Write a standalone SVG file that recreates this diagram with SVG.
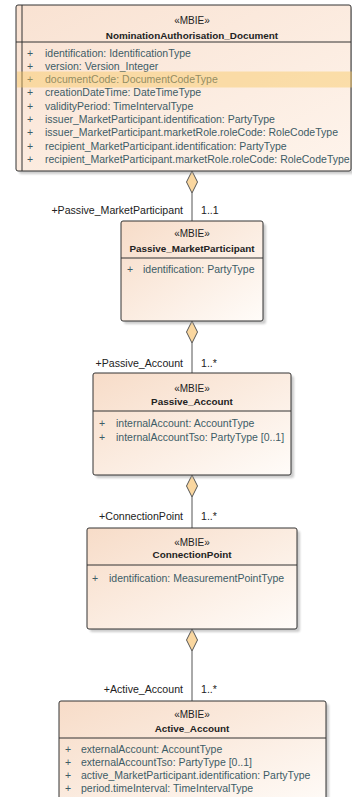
<svg xmlns="http://www.w3.org/2000/svg" width="352" height="797" viewBox="0 0 352 797">
<defs>
<linearGradient id="fill" x1="0" y1="0" x2="1" y2="1">
<stop offset="0" stop-color="#F7DCC8"/>
<stop offset="1" stop-color="#FFFCF9"/>
</linearGradient>
<linearGradient id="fill1" x1="0" y1="0" x2="1" y2="1">
<stop offset="0" stop-color="#F9E2D2"/>
<stop offset="1" stop-color="#FEF4EC"/>
</linearGradient>
<filter id="sh" x="-10%" y="-10%" width="130%" height="130%">
<feGaussianBlur stdDeviation="1"/>
</filter>
</defs>
<style>
text{font-family:"Liberation Sans",Arial,sans-serif;font-size:10.5px;fill:#222}
.st{text-anchor:middle;font-size:10px}
.nm{text-anchor:middle;font-weight:bold;font-size:9.9px}
.at{fill:#3D5C66}
.pl{fill:#3D5C66}
.box{stroke:#333;stroke-width:1}
.shadow{fill:#999;opacity:0.5;filter:url(#sh)}
.sep{stroke:#333;stroke-width:1}
.ln{stroke:#555;stroke-width:1;fill:none}
.dia{fill:#FAD7A0;stroke:#555;stroke-width:1}
.lbl{fill:#222;font-size:10.6px}
</style>

<g id="connectors">
<line class="ln" x1="192" y1="193" x2="192" y2="221"/>
<polygon class="dia" points="192,171 197.5,182 192,193 186.5,182"/>
<text class="lbl" x="183" y="213.5" text-anchor="end">+Passive_MarketParticipant</text>
<text class="lbl" x="201" y="213.5">1..1</text>

<line class="ln" x1="192" y1="343" x2="192" y2="373"/>
<polygon class="dia" points="192,321 197.5,332 192,343 186.5,332"/>
<text class="lbl" x="183" y="366.5" text-anchor="end">+Passive_Account</text>
<text class="lbl" x="201" y="366.5">1..*</text>

<line class="ln" x1="192" y1="497" x2="192" y2="528"/>
<polygon class="dia" points="192,475 197.5,486 192,497 186.5,486"/>
<text class="lbl" x="183" y="519.5" text-anchor="end">+ConnectionPoint</text>
<text class="lbl" x="201" y="519.5">1..*</text>

<line class="ln" x1="192" y1="651" x2="192" y2="701"/>
<polygon class="dia" points="192,629 197.5,640 192,651 186.5,640"/>
<text class="lbl" x="183" y="692.5" text-anchor="end">+Active_Account</text>
<text class="lbl" x="201" y="692.5">1..*</text>
</g>

<g id="NominationAuthorisation_Document">
<rect class="shadow" x="19" y="8" width="335" height="166" rx="2"/>
<rect class="box" x="16" y="5" width="335" height="166" rx="2" fill="url(#fill1)"/>
<line class="sep" x1="22" y1="5" x2="22" y2="171"/>
<line class="sep" x1="16" y1="42" x2="351" y2="42"/>
<text class="st" x="192" y="23.5">«MBIE»</text>
<text class="nm" x="192" y="38.5">NominationAuthorisation_Document</text>
<text class="pl" x="27" y="56.5">+</text><text class="at" x="45" y="56.5">identification: IdentificationType</text>
<text class="pl" x="27" y="69.8">+</text><text class="at" x="45" y="69.8">version: Version_Integer</text>
<text class="pl" x="27" y="83.1">+</text><text class="at" x="45" y="83.1">documentCode: DocumentCodeType</text>
<text class="pl" x="27" y="96.4">+</text><text class="at" x="45" y="96.4">creationDateTime: DateTimeType</text>
<text class="pl" x="27" y="109.7">+</text><text class="at" x="45" y="109.7">validityPeriod: TimeIntervalType</text>
<text class="pl" x="27" y="123">+</text><text class="at" x="45" y="123">issuer_MarketParticipant.identification: PartyType</text>
<text class="pl" x="27" y="136.3">+</text><text class="at" x="45" y="136.3">issuer_MarketParticipant.marketRole.roleCode: RoleCodeType</text>
<text class="pl" x="27" y="149.6">+</text><text class="at" x="45" y="149.6">recipient_MarketParticipant.identification: PartyType</text>
<text class="pl" x="27" y="162.9">+</text><text class="at" x="45" y="162.9">recipient_MarketParticipant.marketRole.roleCode: RoleCodeType</text>
<rect x="17" y="71.5" width="335" height="16" fill="#F9C860" opacity="0.45"/>
</g>

<g id="Passive_MarketParticipant">
<rect class="shadow" x="124" y="224" width="142" height="100" rx="2"/>
<rect class="box" x="121" y="221" width="142" height="100" rx="2" fill="url(#fill)"/>
<line class="sep" x1="121" y1="258" x2="263" y2="258"/>
<text class="st" x="192" y="236.5">«MBIE»</text>
<text class="nm" x="192" y="251.5">Passive_MarketParticipant</text>
<text class="pl" x="127" y="272.5">+</text><text class="at" x="143" y="272.5">identification: PartyType</text>
</g>

<g id="Passive_Account">
<rect class="shadow" x="96" y="376" width="198" height="102" rx="2"/>
<rect class="box" x="93" y="373" width="198" height="102" rx="2" fill="url(#fill)"/>
<line class="sep" x1="93" y1="411" x2="291" y2="411"/>
<text class="st" x="192" y="391.5">«MBIE»</text>
<text class="nm" x="192" y="404.5">Passive_Account</text>
<text class="pl" x="99" y="426.5">+</text><text class="at" x="116" y="426.5">internalAccount: AccountType</text>
<text class="pl" x="99" y="440.5">+</text><text class="at" x="116" y="440.5">internalAccountTso: PartyType [0..1]</text>
</g>

<g id="ConnectionPoint">
<rect class="shadow" x="90" y="531" width="210" height="101" rx="2"/>
<rect class="box" x="87" y="528" width="210" height="101" rx="2" fill="url(#fill)"/>
<line class="sep" x1="87" y1="565" x2="297" y2="565"/>
<text class="st" x="192" y="545.5">«MBIE»</text>
<text class="nm" x="192" y="558">ConnectionPoint</text>
<text class="pl" x="92" y="581.5">+</text><text class="at" x="109" y="581.5">identification: MeasurementPointType</text>
</g>

<g id="Active_Account">
<rect class="shadow" x="62" y="704" width="267" height="110" rx="2"/>
<rect class="box" x="59" y="701" width="267" height="110" rx="2" fill="url(#fill)"/>
<line class="sep" x1="59" y1="738" x2="326" y2="738"/>
<text class="st" x="192" y="717.5">«MBIE»</text>
<text class="nm" x="192" y="731.5">Active_Account</text>
<text class="pl" x="65" y="752.5">+</text><text class="at" x="81" y="752.5">externalAccount: AccountType</text>
<text class="pl" x="65" y="765.8">+</text><text class="at" x="81" y="765.8">externalAccountTso: PartyType [0..1]</text>
<text class="pl" x="65" y="779.1">+</text><text class="at" x="81" y="779.1">active_MarketParticipant.identification: PartyType</text>
<text class="pl" x="65" y="792.4">+</text><text class="at" x="81" y="792.4">period.timeInterval: TimeIntervalType</text>
</g>
</svg>
